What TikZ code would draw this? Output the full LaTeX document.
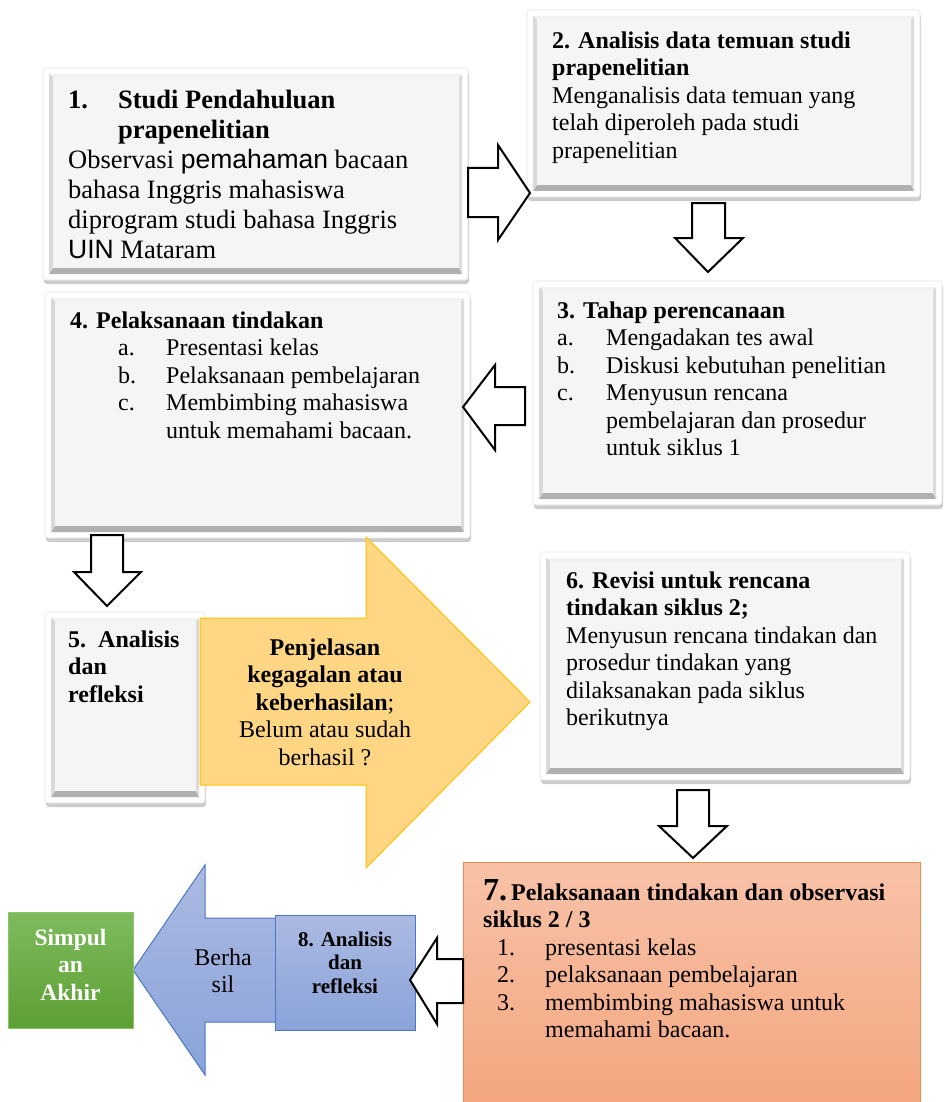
\documentclass[tikz,border=0pt]{standalone}
\usepackage{fontspec}
\setmainfont{Liberation Serif}
\newfontfamily\arialf{Liberation Sans}
\usetikzlibrary{calc,shadows}
\definecolor{facegray}{HTML}{F5F5F5}
\definecolor{yelfill}{HTML}{FFD784}
\definecolor{yeldraw}{HTML}{FFC000}
\definecolor{orgtop}{HTML}{F8C2A8}
\definecolor{orgbot}{HTML}{F4A67F}
\definecolor{orgdraw}{HTML}{F08A50}
\definecolor{blutop}{HTML}{ABBAE2}
\definecolor{blubot}{HTML}{8AA3D9}
\definecolor{bludraw}{HTML}{4A77C8}
\definecolor{grntop}{HTML}{7EBB5E}
\definecolor{grnbot}{HTML}{5CA032}
\definecolor{grndraw}{HTML}{8CC46C}
\newcommand{\bevelize}[1]{%
  \path ([shift={(6pt,6pt)}]#1.south west) coordinate (bvA)
        ([shift={(-6pt,-6pt)}]#1.north east) coordinate (bvC)
        ([shift={(10pt,12pt)}]#1.south west) coordinate (bva)
        ([shift={(-9pt,-9pt)}]#1.north east) coordinate (bvc);
  \fill[gray!62] (bvA) -- (bvC |- bvA) -- (bvc |- bva) -- (bva) -- cycle;
  \fill[gray!28] (bvC |- bvA) -- (bvC) -- (bvc) -- (bvc |- bva) -- cycle;
  \fill[gray!10] (bvC) -- (bvA |- bvC) -- (bva |- bvc) -- (bvc) -- cycle;
  \fill[gray!30] (bvA |- bvC) -- (bvA) -- (bva) -- (bva |- bvc) -- cycle;
  \fill[facegray] (bva) rectangle (bvc);
}
\begin{document}
\begin{tikzpicture}[x=1pt,y=-1pt,
  bevel/.style={rectangle, draw=gray!20, line width=0.6pt, fill=white, rounded corners=3pt,
    inner sep=0pt, outer sep=0pt,
    drop shadow={shadow xshift=1pt, shadow yshift=-4pt, fill=black, opacity=0.2}},
  txt/.style={inner sep=0pt, align=left, font=\fontsize{24}{27.5}\selectfont},
  hollow/.style={draw=black, line width=2pt, fill=white, line join=miter},
]
\useasboundingbox (0,0) rectangle (948,1102);
\fill[white] (0,0) rectangle (948,1102);

% bevel boxes
\node[bevel, minimum width=425pt, minimum height=212pt] (b1) at (255.5,174) {};
\bevelize{b1}
\node[bevel, minimum width=393pt, minimum height=187pt] (b2) at (723.5,103.5) {};
\bevelize{b2}
\node[bevel, minimum width=409pt, minimum height=224pt] (b3) at (737.5,393) {};
\bevelize{b3}
\node[bevel, minimum width=425pt, minimum height=246pt] (b4) at (257.5,415) {};
\bevelize{b4}
\node[bevel, minimum width=160pt, minimum height=191pt] (b5) at (125,707.5) {};
\bevelize{b5}
\node[bevel, minimum width=370pt, minimum height=228pt] (b6) at (725,666) {};
\bevelize{b6}

% orange box 7
\node[rectangle, draw=orgdraw, line width=1pt, top color=orgtop, bottom color=orgbot,
  minimum width=457pt, minimum height=244pt, inner sep=0pt] (b7) at (691.5,984) {};

% yellow arrow
\draw[fill=yelfill, draw=yeldraw, line width=1pt, line join=miter]
  (200,618) -- (366,618) -- (366,537) -- (530,702) -- (366,868) -- (366,785) -- (200,785) -- cycle;

% blue arrow
\draw[top color=blutop, bottom color=blubot, draw=bludraw, line width=1pt, line join=miter]
  (290,918) -- (205,918) -- (205,865) -- (133,970) -- (205,1075) -- (205,1022) -- (290,1022) -- cycle;
\node[rectangle, draw=bludraw, line width=1pt, top color=blutop, bottom color=blubot,
  minimum width=140pt, minimum height=115pt, inner sep=0pt] (b8) at (345,972.5) {};

% green box
\node[rectangle, draw=grndraw, line width=1pt, top color=grntop, bottom color=grnbot,
  minimum width=125pt, minimum height=116pt, inner sep=0pt] (b9) at (70.5,970) {};

% hollow arrows
\draw[hollow] (468,168) -- (498,168) -- (498,145) -- (530,193) -- (498,240) -- (498,217) -- (468,217) -- cycle;
\draw[hollow] (692,203) -- (725,203) -- (725,238) -- (743,238) -- (708,272) -- (675,238) -- (692,238) -- cycle;
\draw[hollow] (525,387) -- (495,387) -- (495,365) -- (463,407) -- (495,450) -- (495,425) -- (525,425) -- cycle;
\draw[hollow] (91,535) -- (123,535) -- (123,572) -- (141,572) -- (107,606) -- (74,572) -- (91,572) -- cycle;
\draw[hollow] (677,790) -- (709,790) -- (709,826) -- (727,826) -- (693,858) -- (659,826) -- (677,826) -- cycle;
\draw[hollow] (463,959) -- (437,959) -- (437,938) -- (410,980) -- (437,1024) -- (437,1003) -- (463,1003) -- cycle;

% texts
\node[txt, anchor=north west, font=\fontsize{26.5}{30}\selectfont] (t1) at (68,90)
 {\textbf{\makebox[50pt][l]{1.}Studi Pendahuluan}\\
  \textbf{\hspace*{50pt}prapenelitian}\\
  Observasi {\arialf pemahaman} bacaan\\
  bahasa Inggris mahasiswa\\
  diprogram studi bahasa Inggris\\
  {\arialf UIN} Mataram};

\node[txt, anchor=north west] (t2) at (552,31.5)
 {\textbf{2. Analisis data temuan studi}\\
  \textbf{prapenelitian}\\
  Menganalisis data temuan yang\\
  telah diperoleh pada studi\\
  prapenelitian};

\node[txt, anchor=north west] (t3) at (557,301.5)
 {\textbf{3. Tahap perencanaan}\\
  \makebox[49pt][l]{a.}Mengadakan tes awal\\
  \makebox[49pt][l]{b.}Diskusi kebutuhan penelitian\\
  \makebox[49pt][l]{c.}Menyusun rencana\\
  \hspace*{49pt}pembelajaran dan prosedur\\
  \hspace*{49pt}untuk siklus 1};

\node[txt, anchor=north west] (t4) at (70,311.5)
 {\textbf{4. Pelaksanaan tindakan}\\
  \hspace*{48pt}\makebox[48pt][l]{a.}Presentasi kelas\\
  \hspace*{48pt}\makebox[48pt][l]{b.}Pelaksanaan pembelajaran\\
  \hspace*{48pt}\makebox[48pt][l]{c.}Membimbing mahasiswa\\
  \hspace*{96pt}untuk memahami bacaan.};

\node[txt, anchor=north west] (t5) at (68,630.5)
 {\textbf{5.\ \ Analisis}\\ \textbf{dan}\\ \textbf{refleksi}};

\node[txt, anchor=north, align=center] (ty) at (325,638.5)
 {\textbf{Penjelasan}\\ \textbf{kegagalan atau}\\ \textbf{keberhasilan};\\ Belum atau sudah\\ berhasil ?};

\node[txt, anchor=north west] (t6) at (566,571.5)
 {\textbf{6. Revisi untuk rencana}\\
  \textbf{tindakan siklus 2;}\\
  Menyusun rencana tindakan dan\\
  prosedur tindakan yang\\
  dilaksanakan pada siklus\\
  berikutnya};

\node[txt, anchor=north west] (t7) at (483,879)
 {\textbf{{\fontsize{32}{32}\selectfont 7.}\,Pelaksanaan tindakan dan observasi}\\
  \textbf{siklus 2 / 3}\\
  \hspace*{14pt}\makebox[48pt][l]{1.}presentasi kelas\\
  \hspace*{14pt}\makebox[48pt][l]{2.}pelaksanaan pembelajaran\\
  \hspace*{14pt}\makebox[48pt][l]{3.}membimbing mahasiswa untuk\\
  \hspace*{62pt}memahami bacaan.};

\node[txt, anchor=north, align=center, font=\fontsize{21}{23.5}\selectfont] (t8) at (345,931.5)
 {\textbf{8. Analisis}\\ \textbf{dan}\\ \textbf{refleksi}};

\node[txt, anchor=north, align=center] (tb) at (223,948.5) {Berha\\ sil};

\node[txt, anchor=north, align=center, text=white, font=\fontsize{23.5}{27.5}\selectfont] (t9) at (70.5,928.5)
 {\textbf{Simpul}\\ \textbf{an}\\ \textbf{Akhir}};
\end{tikzpicture}
\end{document}
